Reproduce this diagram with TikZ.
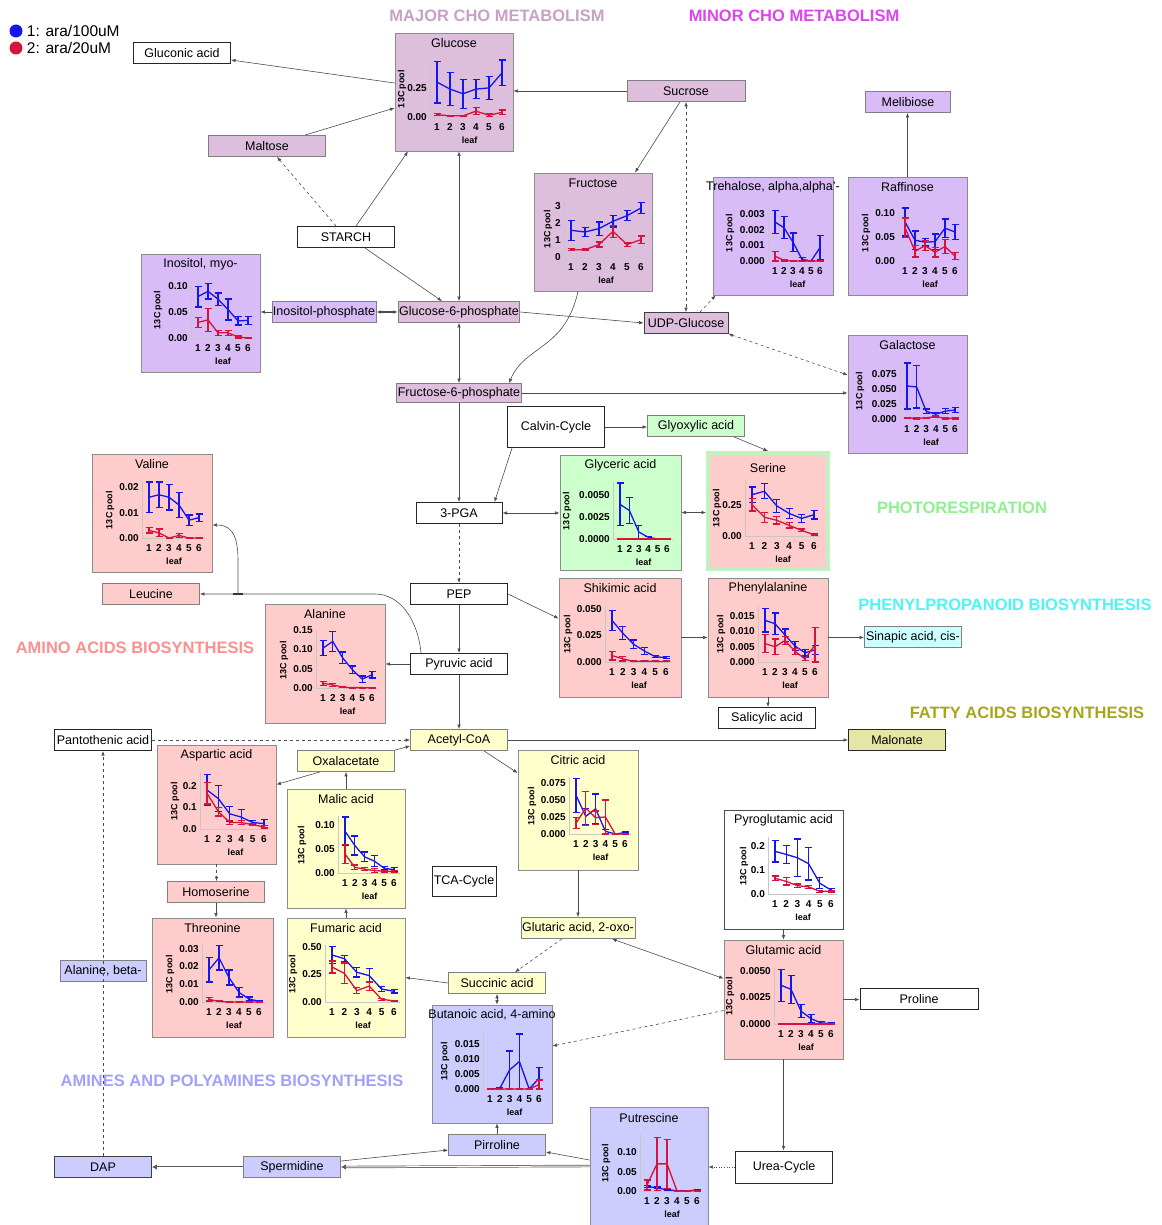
\documentclass[tikz,border=0pt]{standalone}
\usepackage{fontspec}
\setmainfont{Liberation Sans}
\usetikzlibrary{positioning}
\usetikzlibrary{arrows.meta}

\definecolor{majorcho}{HTML}{DDBFDD}
\definecolor{minorcho}{HTML}{D9BCF7}
\definecolor{amino}{HTML}{FFCCCC}
\definecolor{photo}{HTML}{CCFFCC}
\definecolor{photoedge}{HTML}{C0F2C0}
\definecolor{tca}{HTML}{FFFFCC}
\definecolor{amines}{HTML}{CCCCFF}
\definecolor{phenyl}{HTML}{CCFFFF}
\definecolor{fatty}{HTML}{E5E5A5}
\definecolor{ser1}{HTML}{1515F0}
\definecolor{ser2}{HTML}{D6123F}
\definecolor{majorhd}{HTML}{C8A0C8}
\definecolor{minorhd}{HTML}{DD44F0}
\definecolor{photohd}{HTML}{8EF08E}
\definecolor{phenylhd}{HTML}{4DF5F5}
\definecolor{aminohd}{HTML}{FF8F8F}
\definecolor{fattyhd}{HTML}{A5A51E}
\definecolor{amineshd}{HTML}{A0A0FF}

\newcommand{\nodefont}{\fontsize{12.5}{13}\selectfont}
\newcommand{\tickfont}{\fontsize{10}{11}\selectfont\bfseries}
\newcommand{\poolfont}{\fontsize{9}{10}\selectfont\bfseries}
\newcommand{\hdrfont}{\fontsize{16.5}{18}\selectfont\bfseries}
\newcommand{\legfont}{\fontsize{15.5}{17}\selectfont}

\tikzset{
  >={Latex[length=4.5pt,width=3.5pt]},
  met/.style={rectangle, draw=black!50, line width=0.8pt, inner sep=1pt,
    minimum width=97, minimum height=21, font=\nodefont},
  plain/.style={met, fill=white, draw=black!85, line width=1pt},
  panel/.style={rectangle, draw=black!45, line width=0.8pt, inner sep=0,
    minimum width=118, minimum height=118},
  ptitle/.style={font=\nodefont, inner sep=0},
  ytk/.style={font=\tickfont, anchor=east, inner sep=0},
  xtk/.style={font=\tickfont, inner sep=0},
  ylab/.style={font=\poolfont, rotate=90, inner sep=0},
  axl/.style={draw=black!22, line width=0.6pt},
  bar/.style={line width=1.3pt, line join=round},
  link/.style={draw=black!70, line width=0.6pt, ->},
  both/.style={link, <->},
  dbl/.style={draw=black!65, line width=2.4pt, -{Latex[length=5pt,width=5.5pt]}},
  dblgap/.style={draw=white, line width=1pt, shorten >=5pt},
  hdr/.style={font=\hdrfont, inner sep=0},
}

% #1 x of the axis title, #2 x of the y axis, #3 top value, #4 ticks value/label
\newcommand{\leafaxes}[4]{%
  \pgfmathsetmacro\yu{57/#3}%
  \pgfmathsetmacro\dx{(100-#2)/5}%
  \def\plotx{#2}%
  \draw[axl] (#2,27) -- (#2,84) -- (113,84);
  \foreach \v/\lbl in {#4} {\node[ytk] at (#2-3,{84-\v*\yu}) {\lbl};}
  \node[ylab] at (#1,56) {13C pool};
  \foreach \i in {1,...,6} {\node[xtk] at ({#2+7+(\i-1)*\dx},94) {\i};}
  \node[xtk, font=\poolfont] at ({#2+7+2.5*\dx},107) {leaf};
}

% #1 colour, #2 six mean/error pairs
\newcommand{\leafseries}[2]{%
  \foreach \m/\e [count=\i] in {#2} {
    \pgfmathsetmacro\px{\plotx+7+(\i-1)*\dx}
    \pgfmathsetmacro\ehi{84-(\m+\e)*\yu}
    \pgfmathsetmacro\elo{min(84,84-(\m-\e)*\yu)}
    \coordinate (pt\i) at (\px,{84-\m*\yu});
    \draw[bar, #1] (\px-3.5,\ehi) -- (\px+3.5,\ehi) (\px,\ehi) -- (\px,\elo)
      (\px-3.5,\elo) -- (\px+3.5,\elo);
  }
  \draw[bar, #1] (pt1) -- (pt2) -- (pt3) -- (pt4) -- (pt5) -- (pt6);
}

\begin{document}
\begin{tikzpicture}[x=1pt, y=-1pt]
\useasboundingbox (0,0) rectangle (1161,1225);

\node[circle, fill=ser1, minimum size=13, inner sep=0] (dot1) at (16,31) {};
\node[circle, fill=ser2, minimum size=13, inner sep=0] (dot2) at (16,48) {};
\node[font=\legfont, inner sep=0, right=4pt of dot1] (leg1) {1: ara/100uM};
\node[font=\legfont, inner sep=0, right=4pt of dot2] (leg2) {2: ara/20uM};

\node[hdr, text=majorhd] (hmajor) at (497,16) {MAJOR CHO METABOLISM};
\node[hdr, text=minorhd] (hminor) at (794,16) {MINOR CHO METABOLISM};
\node[hdr, text=photohd] (hphoto) at (962,508) {PHOTORESPIRATION};
\node[hdr, text=phenylhd] (hphenyl) at (1005,605) {PHENYLPROPANOID BIOSYNTHESIS};
\node[hdr, text=aminohd] (hamino) at (135,648) {AMINO ACIDS BIOSYNTHESIS};
\node[hdr, text=fattyhd] (hfatty) at (1027,713) {FATTY ACIDS BIOSYNTHESIS};
\node[hdr, text=amineshd] (hamines) at (232,1081) {AMINES AND POLYAMINES BIOSYNTHESIS};

\node[plain] (gluconic) at (182,53) {Gluconic acid};
\node[met, fill=majorcho, minimum width=117] (maltose) at (267,146) {Maltose};
\node[met, fill=majorcho, minimum width=118] (sucrose) at (686,91) {Sucrose};
\node[met, fill=minorcho, minimum width=85] (melibiose) at (908,102) {Melibiose};
\node[plain] (starch) at (346,237) {STARCH};
\node[met, fill=minorcho] (inosp) at (324,312) {Inositol-phosphate};
\node[met, fill=majorcho, minimum width=118] (g6p) at (459,312) {Glucose-6-phosphate};
\node[met, fill=majorcho, draw=black!75, minimum width=84] (udpglc) at (686,323) {UDP-Glucose};
\node[met, fill=majorcho, minimum width=118, minimum height=19] (f6p) at (459,393) {Fructose-6-phosphate};
\node[plain, minimum height=41] (calvin) at (556,427) {Calvin-Cycle};
\node[met, fill=photo] (glyoxylic) at (696,426) {Glyoxylic acid};
\node[plain, minimum width=86] (pga) at (459,513) {3-PGA};
\node[plain] (pep) at (459,594) {PEP};
\node[met, fill=amino] (leucine) at (151,594) {Leucine};
\node[plain] (pyruvic) at (459,664) {Pyruvic acid};
\node[met, fill=phenyl] (sinapic) at (913,637) {Sinapic acid, cis-};
\node[plain] (salicylic) at (767,718) {Salicylic acid};
\node[plain] (pantothenic) at (103,740) {Pantothenic acid};
\node[met, fill=tca] (acetyl) at (459,740) {Acetyl-CoA};
\node[plain, fill=fatty] (malonate) at (897,740) {Malonate};
\node[met, fill=tca] (oxal) at (346,761) {Oxalacetate};
\node[plain, minimum width=64, minimum height=30] (tcacycle) at (464,881) {TCA-Cycle};
\node[met, fill=amino] (homoserine) at (216,892) {Homoserine};
\node[met, fill=tca] (glutaric) at (578,928) {Glutaric acid, 2-oxo-};
\node[met, fill=amines, minimum width=86] (betaala) at (103,971) {Alanine, beta-};
\node[met, fill=tca] (succinic) at (497,983) {Succinic acid};
\node[plain, minimum width=118] (proline) at (919,999) {Proline};
\node[met, fill=amines] (pirroline) at (497,1145) {Pirroline};
\node[met, fill=amines, draw=black!75] (dap) at (103,1167) {DAP};
\node[met, fill=amines] (spermidine) at (292,1167) {Spermidine};
\node[plain, minimum height=32] (urea) at (784,1167) {Urea-Cycle};

\begin{scope}[shift={(395,33)}]
  \node[panel, fill=majorcho] (glucose) at (59,59) {};
  \node[ptitle] (glucose-t) at (59,10) {Glucose};
  \leafaxes{7}{35}{0.49}{0/0.00, 0.25/0.25}
  \leafseries{ser1}{0.30/0.18, 0.24/0.14, 0.20/0.125, 0.24/0.08, 0.25/0.10, 0.38/0.11}
  \leafseries{ser2}{0.02/0.01, 0.01/0.005, 0.01/0.005, 0.05/0.03, 0.015/0.01, 0.04/0.02}
\end{scope}

\begin{scope}[shift={(534,173)}]
  \node[panel, fill=majorcho] (fructose) at (59,59) {};
  \node[ptitle] (fructose-t) at (59,10) {Fructose};
  \leafaxes{14}{30}{3.35}{0/0, 1/1, 2/2, 3/3}
  \leafseries{ser1}{1.57/0.59, 1.47/0.27, 1.67/0.39, 2.1/0.34, 2.43/0.29, 2.88/0.32}
  \leafseries{ser2}{0.43/0.06, 0.43/0.04, 0.73/0.15, 1.51/0.35, 0.73/0.1, 1.02/0.22}
\end{scope}

\begin{scope}[shift={(713,177)}]
  \node[panel, fill=minorcho, minimum width=120] (trehalose) at (60,59) {};
  \node[ptitle] (trehalose-t) at (60,10) {Trehalose, alpha,alpha'-};
  \leafaxes{17}{55}{0.00366}{0/0.000, 0.001/0.001, 0.002/0.002, 0.003/0.003}
  \leafseries{ser1}{0.0025/0.00075, 0.00214/0.0007, 0.0012/0.0006, 0.0001/0.0001, 0/0, 0.00086/0.00077}
  \leafseries{ser2}{0.0003/0.0003, 0.00005/0.00005, 0/0, 0/0, 0/0, 0/0}
\end{scope}

\begin{scope}[shift={(848,177)}]
  \node[panel, fill=minorcho, minimum width=119] (raffinose) at (59.5,59) {};
  \node[ptitle] (raffinose-t) at (59.5,10) {Raffinose};
  \leafaxes{18}{50}{0.118}{0/0.00, 0.05/0.05, 0.1/0.10}
  \leafseries{ser1}{0.081/0.029, 0.043/0.019, 0.039/0.008, 0.04/0.016, 0.068/0.019, 0.06/0.016}
  \leafseries{ser2}{0.069/0.02, 0.02/0.012, 0.032/0.01, 0.018/0.01, 0.03/0.015, 0.01/0.007}
\end{scope}

\begin{scope}[shift={(141,254)}]
  \node[panel, fill=minorcho, minimum width=119] (inositol) at (59.5,59) {};
  \node[ptitle] (inositol-t) at (59.5,10) {Inositol, myo-};
  \leafaxes{17}{50}{0.11}{0/0.00, 0.05/0.05, 0.1/0.10}
  \leafseries{ser1}{0.08/0.02, 0.09/0.015, 0.075/0.012, 0.055/0.02, 0.033/0.008, 0.034/0.008}
  \leafseries{ser2}{0.03/0.01, 0.035/0.022, 0.01/0.005, 0.01/0.005, 0.002/0.002, 0/0}
\end{scope}

\begin{scope}[shift={(848,335)}]
  \node[panel, fill=minorcho, minimum width=119] (galactose) at (59.5,59) {};
  \node[ptitle] (galactose-t) at (59.5,10) {Galactose};
  \leafaxes{12}{52}{0.0943}{0/0.000, 0.025/0.025, 0.05/0.050, 0.075/0.075}
  \leafseries{ser1}{0.0546/0.038, 0.053/0.035, 0.0127/0.004, 0.008/0.003, 0.013/0.004, 0.015/0.004}
  \leafseries{ser2}{0.002/0.001, 0.001/0.001, 0.002/0.001, 0.004/0.002, 0.001/0.001, 0.001/0.001}
\end{scope}

\begin{scope}[shift={(92,454)}]
  \node[panel, fill=amino, minimum width=120] (valine) at (60,59) {};
  \node[ptitle] (valine-t) at (60,10) {Valine};
  \leafaxes{18}{50}{0.0224}{0/0.00, 0.01/0.01, 0.02/0.02}
  \leafseries{ser1}{0.016/0.006, 0.017/0.005, 0.016/0.005, 0.013/0.005, 0.007/0.002, 0.008/0.0015}
  \leafseries{ser2}{0.003/0.001, 0.002/0.0015, 0/0, 0.001/0.0008, 0/0, 0/0}
\end{scope}

\begin{scope}[shift={(560,455)}]
  \node[panel, fill=photo, minimum width=121, minimum height=115] (glyceric) at (60.5,57.5) {};
  \node[ptitle] (glyceric-t) at (60.5,10) {Glyceric acid};
  \leafaxes{7}{53}{0.00643}{0/0.0000, 0.0025/0.0025, 0.005/0.0050}
  \leafseries{ser1}{0.0039/0.0024, 0.0032/0.0015, 0.0008/0.0007, 0.0002/0.0001, 0/0, 0/0}
  \leafseries{ser2}{0/0, 0/0, 0/0, 0/0, 0/0, 0/0}
\end{scope}

\begin{scope}[shift={(707,452)}]
  \node[panel, fill=amino, draw=photoedge, line width=4pt, minimum width=120, minimum height=116] (serine) at (61,59) {};
  \node[ptitle] (serine-t) at (61,16) {Serine};
  \leafaxes{10}{38}{0.455}{0/0.00, 0.25/0.25}
  \leafseries{ser1}{0.33/0.06, 0.357/0.06, 0.24/0.05, 0.18/0.04, 0.14/0.03, 0.17/0.035}
  \leafseries{ser2}{0.25/0.05, 0.15/0.04, 0.125/0.03, 0.085/0.02, 0.045/0.01, 0.01/0.005}
\end{scope}

\begin{scope}[shift={(559,578)}]
  \node[panel, fill=amino, minimum width=122, minimum height=119] (shikimic) at (61,59.5) {};
  \node[ptitle] (shikimic-t) at (61,10) {Shikimic acid};
  \leafaxes{9}{46}{0.0534}{0/0.000, 0.025/0.025, 0.05/0.050}
  \leafseries{ser1}{0.039/0.0094, 0.027/0.006, 0.0166/0.004, 0.0103/0.003, 0.005/0.001, 0.004/0.001}
  \leafseries{ser2}{0.006/0.004, 0.003/0.002, 0.0005/0.0003, 0.001/0.0005, 0.0005/0.0003, 0.0005/0.0003}
\end{scope}

\begin{scope}[shift={(708,578)}]
  \node[panel, fill=amino, minimum width=120, minimum height=119] (phe) at (60,59.5) {};
  \node[ptitle] (phe-t) at (60,10) {Phenylalanine};
  \leafaxes{13}{50}{0.0186}{0/0.000, 0.005/0.005, 0.01/0.010, 0.015/0.015}
  \leafseries{ser1}{0.0136/0.0038, 0.0125/0.0035, 0.0088/0.002, 0.0052/0.0015, 0.003/0.001, 0.004/0.0015}
  \leafseries{ser2}{0.006/0.003, 0.005/0.0025, 0.007/0.0012, 0.0035/0.001, 0.001/0.0005, 0.0056/0.0056}
\end{scope}

\begin{scope}[shift={(265,604)}]
  \node[panel, fill=amino, minimum width=120, minimum height=119] (alanine) at (60,59.5) {};
  \node[ptitle] (alanine-t) at (60,10) {Alanine};
  \leafaxes{19}{51}{0.147}{0/0.00, 0.05/0.05, 0.1/0.10, 0.15/0.15}
  \leafseries{ser1}{0.103/0.02, 0.12/0.025, 0.078/0.015, 0.047/0.01, 0.023/0.008, 0.034/0.008}
  \leafseries{ser2}{0.012/0.005, 0.008/0.004, 0.002/0.001, 0.001/0.001, 0.001/0.001, 0/0}
\end{scope}

\begin{scope}[shift={(157,745)}]
  \node[panel, fill=amino, minimum width=119, minimum height=119] (aspartic) at (59.5,59.5) {};
  \node[ptitle] (aspartic-t) at (59.5,10) {Aspartic acid};
  \leafaxes{18}{43}{0.263}{0/0.0, 0.1/0.1, 0.2/0.2}
  \leafseries{ser1}{0.18/0.073, 0.14/0.06, 0.07/0.035, 0.055/0.035, 0.03/0.01, 0.025/0.02}
  \leafseries{ser2}{0.165/0.05, 0.08/0.02, 0.03/0.01, 0.03/0.01, 0.02/0.005, 0.01/0.005}
\end{scope}

\begin{scope}[shift={(287,789)}]
  \node[panel, fill=tca, minimum width=118, minimum height=119] (malic) at (59,59.5) {};
  \node[ptitle] (malic-t) at (59,10) {Malic acid};
  \leafaxes{15}{51}{0.12}{0/0.00, 0.05/0.05, 0.1/0.10}
  \leafseries{ser1}{0.088/0.03, 0.058/0.02, 0.034/0.01, 0.025/0.012, 0.01/0.003, 0.007/0.005}
  \leafseries{ser2}{0.04/0.02, 0.012/0.005, 0.008/0.003, 0.005/0.004, 0.004/0.002, 0.003/0.002}
\end{scope}

\begin{scope}[shift={(518,750)}]
  \node[panel, fill=tca, minimum width=120, minimum height=120] (citric) at (60,60) {};
  \node[ptitle] (citric-t) at (60,10) {Citric acid};
  \leafaxes{14}{51}{0.0838}{0/0.000, 0.025/0.025, 0.05/0.050, 0.075/0.075}
  \leafseries{ser1}{0.057/0.025, 0.026/0.012, 0.037/0.022, 0.004/0.003, 0/0.001, 0.002/0.001}
  \leafseries{ser2}{0.016/0.008, 0.038/0.025, 0.024/0.01, 0.025/0.025, 0/0, 0/0}
\end{scope}

\begin{scope}[shift={(724,810)}]
  \node[panel, fill=white, draw=black!70, minimum width=119, minimum height=119] (pyroglu) at (59.5,59.5) {};
  \node[ptitle] (pyroglu-t) at (59.5,10) {Pyroglutamic acid};
  \leafaxes{20}{44}{0.239}{0/0.0, 0.1/0.1, 0.2/0.2}
  \leafseries{ser1}{0.179/0.045, 0.166/0.037, 0.152/0.079, 0.127/0.068, 0.045/0.023, 0.017/0.007}
  \leafseries{ser2}{0.066/0.01, 0.053/0.015, 0.035/0.007, 0.03/0.007, 0.011/0.005, 0.012/0.004}
\end{scope}

\begin{scope}[shift={(152,918)}]
  \node[panel, fill=amino, minimum width=121, minimum height=119] (threonine) at (60.5,59.5) {};
  \node[ptitle] (threonine-t) at (60.5,10) {Threonine};
  \leafaxes{18}{50}{0.032}{0/0.00, 0.01/0.01, 0.02/0.02, 0.03/0.03}
  \leafseries{ser1}{0.018/0.0068, 0.0248/0.0068, 0.0137/0.0042, 0.0054/0.0026, 0.0017/0.0011, 0.0004/0.0003}
  \leafseries{ser2}{0.0015/0.001, 0.0003/0.0002, 0/0, 0/0, 0/0, 0/0}
\end{scope}

\begin{scope}[shift={(287,918)}]
  \node[panel, fill=tca, minimum width=118, minimum height=119] (fumaric) at (59,59.5) {};
  \node[ptitle] (fumaric-t) at (59,10) {Fumaric acid};
  \leafaxes{6}{38}{0.518}{0/0.00, 0.25/0.25, 0.5/0.50}
  \leafseries{ser1}{0.427/0.079, 0.394/0.03, 0.27/0.043, 0.24/0.065, 0.118/0.021, 0.097/0.015}
  \leafseries{ser2}{0.318/0.055, 0.26/0.094, 0.103/0.027, 0.145/0.038, 0.025/0.01, 0.01/0.005}
\end{scope}

\begin{scope}[shift={(724,940)}]
  \node[panel, fill=amino, minimum width=119, minimum height=119] (glutamic) at (59.5,59.5) {};
  \node[ptitle] (glutamic-t) at (59.5,10) {Glutamic acid};
  \leafaxes{6}{50}{0.00534}{0/0.0000, 0.0025/0.0025, 0.005/0.0050}
  \leafseries{ser1}{0.00363/0.0015, 0.00325/0.0013, 0.0012/0.0006, 0.0005/0.0004, 0.0001/0.0001, 0.00005/0.00005}
  \leafseries{ser2}{0/0, 0/0, 0/0, 0/0, 0/0, 0/0}
\end{scope}

\begin{scope}[shift={(432,1005)}]
  \node[panel, fill=amines, minimum width=120, minimum height=118] (butanoic) at (60,59) {};
  \node[ptitle] (butanoic-t) at (60,10) {Butanoic acid, 4-amino};
  \leafaxes{13}{51}{0.0191}{0/0.000, 0.005/0.005, 0.01/0.010, 0.015/0.015}
  \leafseries{ser1}{0/0, 0.0002/0.0001, 0.0064/0.0064, 0.0092/0.0092, 0/0, 0.0036/0.0036}
  \leafseries{ser2}{0/0, 0/0, 0/0, 0/0, 0/0, 0.0015/0.0015}
\end{scope}

\begin{scope}[shift={(590,1107)}]
  \node[panel, fill=amines, minimum width=118, minimum height=118] (putrescine) at (59,59) {};
  \node[ptitle] (putrescine-t) at (59,11) {Putrescine};
  \leafaxes{16}{50}{0.147}{0/0.00, 0.05/0.05, 0.1/0.10}
  \leafseries{ser1}{0.012/0.003, 0.008/0.002, 0.003/0.001, 0.001/0.001, 0/0.001, 0.003/0.001}
  \leafseries{ser2}{0.0155/0.013, 0.07/0.068, 0.07/0.063, 0/0.001, 0/0.001, 0.001/0.001}
\end{scope}

\draw[link] ([yshift=9pt]glucose.west) -- ([yshift=-7pt]gluconic.east);
\draw[link] ([xshift=38pt]maltose.north) -- ([yshift=-16pt]glucose.west);
\draw[link, dashed] ([xshift=-10pt]starch.north) -- ([xshift=10pt]maltose.south);
\draw[link] ([xshift=10pt]starch.north) -- ([xshift=-46pt]glucose.south);
\draw[both] (g6p.north) -- (g6p.north |- glucose.south);
\draw[link] ([xshift=19pt]starch.south) -- ([xshift=-17pt]g6p.north);
\draw[link] (sucrose.west) -- (sucrose.west -| glucose.east);
\draw[link] ([xshift=-6pt]sucrose.south) -- ([xshift=42pt]fructose.north);
\draw[both, dashed] (sucrose.south) -- (udpglc.north);
\draw[link] (raffinose.north) -- (raffinose.north |- melibiose.south);
\draw[link, dashed] ([xshift=14pt]udpglc.north) -- ([xshift=3pt]trehalose.south west);
\draw[link] (g6p.east) -- (udpglc.west);
\draw[both, dashed] (udpglc.south east) -- ([yshift=19pt]galactose.west);
\draw[link] ([xshift=-15pt]fructose.south) .. controls (565,350) and (525,345) .. ([xshift=50pt]f6p.north);
\draw[both, line width=1.1pt] (inosp.east) -- (g6p.west);
\draw[link] (inosp.west) -- (inosp.west -| inositol.east);
\draw[both] (g6p.south) -- (f6p.north);
\draw[link] (f6p.east) -- (f6p.east -| galactose.west);
\draw[link] (f6p.south) -- (pga.north);
\draw[link] ([xshift=5pt]calvin.south west) -- ([xshift=-8pt]pga.north east);
\draw[link] (calvin.east) -- (calvin.east -| glyoxylic.west);
\draw[link] ([xshift=38pt]glyoxylic.south) -- (serine.north);
\draw[both] (pga.east) -- (pga.east -| glyceric.west);
\draw[both] (glyceric.east) -- (glyceric.east -| serine.west);
\draw[link, dashed] (pga.south) -- (pep.north);
\draw[link] (pep.east) -- ([yshift=19pt]shikimic.west);
\draw[link] (shikimic.east) -- (phe.west);
\draw[link] (phe.east) -- (phe.east -| sinapic.west);
\draw[link] (phe.south) -- (phe.south |- salicylic.north);
\draw[link] (pep.south) -- (pyruvic.north);
\draw[link] (pyruvic.west) -- (pyruvic.west -| alanine.east);
\coordinate (leubranch) at (238,594);
\draw[link] ([xshift=-38pt]pyruvic.north) .. controls (418,620) and (400,594) .. (375,594) -- (leucine.east);
\draw[line width=1.8pt, draw=black!80] ([xshift=-5pt]leubranch) -- ([xshift=5pt]leubranch);
\draw[link] (leubranch) -- (238,560) .. controls (238,530) and (228,525) .. ([yshift=-12pt]valine.east);
\draw[link] (pyruvic.south) -- (acetyl.north);
\draw[link, dashed] (pantothenic.east) -- (acetyl.west);
\draw[link] (acetyl.east) -- (malonate.west);
\draw[link] ([xshift=25pt]acetyl.south) -- ([yshift=37pt]citric.west);
\draw[link] (oxal.north east) -- ([yshift=-6pt]acetyl.west);
\draw[link] ([xshift=-26pt]oxal.south) -- ([yshift=20pt]aspartic.east);
\draw[link] (malic.north) -- (malic.north |- oxal.south);
\draw[link, dashed] (aspartic.south) -- (aspartic.south |- homoserine.north);
\draw[link] (homoserine.south) -- (homoserine.south |- threonine.north);
\draw[link] (fumaric.north) -- (fumaric.north |- malic.south);
\draw[link] (succinic.west) -- (fumaric.east);
\draw[link] (citric.south) -- (citric.south |- glutaric.north);
\draw[link, dashed] ([xshift=-16pt]glutaric.south) -- ([xshift=18pt]succinic.north);
\draw[both] ([xshift=34pt]glutaric.south) -- ([yshift=21pt]glutamic.west);
\draw[link] (pyroglu.south) -- (glutamic.north);
\draw[link] (glutamic.east) -- (glutamic.east -| proline.west);
\draw[link, dashed] ([yshift=-11pt]glutamic.west) -- ([yshift=18pt]butanoic.east);
\draw[both, dashed] (succinic.south) -- (succinic.south |- butanoic.north);
\draw[link] (glutamic.south) -- (glutamic.south |- urea.north);
\draw[link, dotted] (urea.west) -- (urea.west -| putrescine.east);
\draw[link] ([yshift=6pt]putrescine.west) -- ([yshift=-7pt]pirroline.east);
\draw[link] (pirroline.north) -- (pirroline.north |- butanoic.south);
\draw[dbl] (putrescine.west) -- (spermidine.east);
\draw[dblgap] (putrescine.west) -- (spermidine.east);
\draw[link] ([yshift=6pt]spermidine.east) -- ([yshift=-5pt]pirroline.west);
\draw[dbl] (spermidine.west) -- (dap.east);
\draw[dblgap] (spermidine.west) -- (dap.east);
\draw[link, dashed] (dap.north) -- (pantothenic.south);
\end{tikzpicture}
\end{document}
